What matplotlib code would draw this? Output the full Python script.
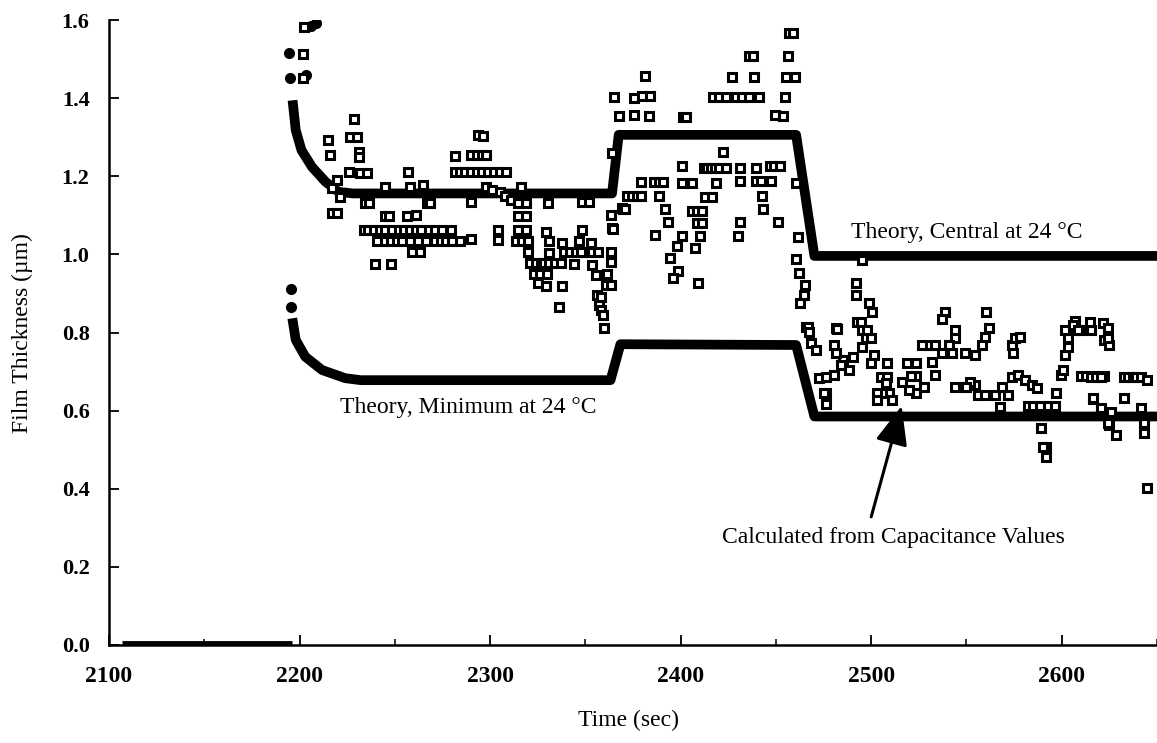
import matplotlib
matplotlib.use("Agg")
import matplotlib.pyplot as plt
import numpy as np

plt.rcParams['font.family'] = ['Liberation Serif', 'DejaVu Serif']

# theory, central film thickness (solid curve of dots)
central_t = [2196.6, 2198, 2201, 2206.5, 2213.6, 2220.5, 2228, 2364, 2367.5, 2460.6, 2470.2, 2650]
central_v = [1.382, 1.318, 1.267, 1.224, 1.186, 1.160, 1.156, 1.156, 1.306, 1.306, 0.996, 0.996]
# a few loose theory points before the curve settles
central_dot_t = [2194.5, 2195, 2203.5, 2206, 2208.5]
central_dot_v = [1.515, 1.451, 1.46, 1.585, 1.592]

# theory, minimum film thickness
minimum_t = [2196.6, 2198, 2203, 2211.8, 2224, 2232, 2363.2, 2368.4, 2460.6, 2470.2, 2650]
minimum_v = [0.824, 0.781, 0.738, 0.704, 0.683, 0.678, 0.678, 0.770, 0.768, 0.585, 0.585]
minimum_dot_t = [2195.3, 2195.3]
minimum_dot_v = [0.911, 0.866]

# zero readings before the run starts
zero_t = [2107, 2196]
zero_v = [0.004, 0.004]

# calculated from capacitance values (open squares)
meas = [
    (2202.3, 1.583), (2201.8, 1.513), (2201.8, 1.451), (2228.4, 1.347), (2215, 1.293),
    (2226.7, 1.300), (2230.1, 1.300), (2216.2, 1.254), (2231, 1.263), (2231, 1.250),
    (2225.8, 1.212), (2231.9, 1.209), (2235.3, 1.209), (2219.9, 1.190), (2217, 1.169),
    (2221.4, 1.148), (2217, 1.105), (2219.5, 1.105), (2234.5, 1.132), (2236.2, 1.132),
    (2245, 1.173), (2245, 1.097), (2246.7, 1.097), (2256.2, 1.097), (2260.9, 1.101),
    (2233.6, 1.062), (2236, 1.062), (2239, 1.062), (2242, 1.062), (2245, 1.062),
    (2248.4, 1.062), (2252, 1.062), (2255, 1.062), (2258, 1.062), (2261, 1.062),
    (2264, 1.062), (2268, 1.062), (2271, 1.062), (2274.5, 1.062), (2279.3, 1.062),
    (2240.5, 1.033), (2245, 1.033), (2248, 1.033), (2251, 1.033), (2254, 1.033),
    (2258, 1.033), (2262, 1.033), (2266.6, 1.033), (2271, 1.033), (2274, 1.033),
    (2277, 1.033), (2280, 1.033), (2284, 1.033), (2290, 1.039),
    (2258.8, 1.005), (2263.1, 1.005), (2239.7, 0.975), (2247.8, 0.975), (2257.1, 1.212),
    (2258, 1.173), (2265, 1.178), (2266.7, 1.131), (2268.4, 1.131), (2293.6, 1.306),
    (2296.2, 1.303), (2281.4, 1.252), (2290, 1.254), (2293, 1.254), (2296, 1.254),
    (2298, 1.254), (2281.4, 1.212), (2284, 1.212), (2287, 1.212), (2290, 1.212),
    (2293, 1.212), (2296, 1.212), (2299, 1.212), (2302, 1.212), (2305, 1.212),
    (2308.4, 1.212), (2290, 1.135), (2298, 1.173), (2301, 1.165), (2305, 1.16),
    (2308, 1.15), (2311, 1.14), (2304, 1.062), (2304, 1.036), (2316.2, 1.173),
    (2314.5, 1.131), (2318.7, 1.131), (2314.5, 1.097), (2318.7, 1.097), (2314.5, 1.062),
    (2318.7, 1.062), (2313.5, 1.033), (2316.5, 1.033), (2319.7, 1.033), (2319.7, 1.005),
    (2321, 0.977), (2324, 0.977), (2326.6, 0.977), (2328.4, 0.977), (2331, 0.977),
    (2334, 0.977), (2337, 0.977), (2323, 0.951), (2326, 0.951), (2330, 0.951),
    (2325, 0.926), (2329.3, 0.919), (2338, 0.919), (2336.2, 0.866), (2329.3, 1.058),
    (2331, 1.033), (2338, 1.030), (2331, 1.003), (2330.2, 1.131), (2339, 1.005),
    (2342, 1.005), (2345, 1.005), (2347.6, 1.005), (2344, 0.975), (2348.4, 1.062),
    (2346.7, 1.033), (2352.8, 1.030), (2353.6, 1.005), (2356.6, 1.005), (2353.6, 0.973),
    (2355.4, 0.947), (2361.5, 0.950), (2360.6, 0.922), (2363.2, 0.922), (2356.3, 0.896),
    (2358, 0.892), (2357, 0.870), (2358, 0.858), (2359, 0.845), (2359.7, 0.811),
    (2363.2, 1.007), (2363.2, 0.981), (2363.2, 1.101), (2364, 1.067), (2348.4, 1.135),
    (2352, 1.135), (2364, 1.260), (2365, 1.404), (2367.5, 1.354), (2369.3, 1.118),
    # second step
    (2457, 1.566), (2459, 1.566), (2436, 1.508), (2438, 1.508), (2456.3, 1.508),
    (2381.1, 1.457), (2426.7, 1.455), (2438.4, 1.455), (2455.4, 1.453), (2459.8, 1.453),
    (2375.4, 1.400), (2379.7, 1.405), (2383.7, 1.405), (2417, 1.404), (2420, 1.404),
    (2424, 1.404), (2429, 1.404), (2432, 1.404), (2436, 1.404), (2441, 1.404),
    (2454.6, 1.402), (2375.4, 1.357), (2383.2, 1.354), (2401, 1.352), (2403, 1.352),
    (2449.3, 1.357), (2453.7, 1.354), (2422, 1.263), (2400.6, 1.225),
    (2412, 1.220), (2414, 1.220), (2416, 1.220), (2418, 1.220), (2420, 1.220),
    (2424, 1.220), (2431, 1.220), (2439.4, 1.220), (2446.7, 1.225), (2449, 1.225),
    (2452, 1.225), (2379, 1.186), (2386, 1.186), (2388.5, 1.186), (2391, 1.186),
    (2400.6, 1.184), (2405.8, 1.184), (2418.5, 1.184), (2431.4, 1.188), (2439.8, 1.188),
    (2442, 1.188), (2447.6, 1.188), (2460.3, 1.184), (2372, 1.150), (2374.5, 1.150),
    (2377, 1.150), (2379, 1.150), (2388.4, 1.150), (2412.8, 1.148), (2416.3, 1.148),
    (2442.7, 1.150), (2369.5, 1.115), (2371, 1.115), (2391.9, 1.115), (2405.8, 1.112),
    (2408.5, 1.112), (2411, 1.112), (2443.2, 1.115), (2364.6, 1.064), (2393.6, 1.084),
    (2408.5, 1.080), (2411, 1.080), (2431.4, 1.084), (2451, 1.084), (2386.7, 1.050),
    (2400.6, 1.047), (2410.2, 1.047), (2430.2, 1.047), (2461.5, 1.045), (2398, 1.021),
    (2407.6, 1.016), (2394.2, 0.990), (2460.6, 0.987), (2398.8, 0.958), (2396.2, 0.939),
    (2409.3, 0.928), (2462, 0.953), (2465.5, 0.922), (2465, 0.896), (2462.7, 0.875),
    # third step
    (2492, 0.928), (2492, 0.896), (2498.6, 0.876), (2500.6, 0.853), (2492.8, 0.828),
    (2494.5, 0.828), (2539, 0.853), (2537, 0.834), (2560, 0.853), (2606.8, 0.830),
    (2621.6, 0.825), (2465.9, 0.815), (2481.5, 0.811), (2495, 0.985),
    (2561.6, 0.811), (2559.8, 0.789), (2558, 0.768), (2544.2, 0.806), (2544.2, 0.785),
    (2540.6, 0.768), (2542.4, 0.747), (2537.2, 0.747), (2530.2, 0.768), (2526.7, 0.768),
    (2533.5, 0.768), (2549.4, 0.747), (2554.6, 0.742), (2531.9, 0.725), (2523.3, 0.721),
    (2518.9, 0.721), (2533.7, 0.691), (2523.3, 0.689), (2520.7, 0.689), (2523.3, 0.644),
    (2519.8, 0.653), (2527.6, 0.660), (2516, 0.674), (2509.4, 0.644), (2505.9, 0.644),
    (2503.3, 0.644), (2503.3, 0.627), (2511.1, 0.627), (2505, 0.687), (2508.5, 0.687),
    (2507.6, 0.670), (2508.5, 0.721), (2501.5, 0.742), (2499.8, 0.721), (2495.4, 0.764),
    (2497.2, 0.785), (2499.8, 0.785), (2495.4, 0.806), (2498, 0.806), (2490.2, 0.738),
    (2485, 0.730), (2488.5, 0.704), (2484.1, 0.717), (2481.5, 0.747), (2480.7, 0.768),
    (2481.9, 0.808), (2466.7, 0.815), (2467.6, 0.802), (2468.5, 0.772), (2471, 0.755),
    (2472.8, 0.683), (2476.3, 0.687), (2480.7, 0.691), (2476.3, 0.644), (2476.5, 0.617),
    (2554.6, 0.666), (2552, 0.674), (2547.6, 0.661), (2544, 0.661), (2550, 0.661),
    (2556.3, 0.640), (2559.8, 0.640), (2565, 0.640), (2567.6, 0.610), (2568.5, 0.661),
    (2573.8, 0.687), (2577.2, 0.691), (2580.7, 0.679), (2584.2, 0.666), (2586.8, 0.657),
    (2572, 0.640), (2573.8, 0.768), (2574.6, 0.747), (2575.5, 0.785), (2578.1, 0.789),
    (2582.4, 0.612), (2585, 0.612), (2588.5, 0.612), (2592.8, 0.612), (2596.3, 0.612),
    (2597.2, 0.644), (2599.8, 0.691), (2600.6, 0.704), (2601.6, 0.742), (2603.3, 0.764),
    (2603.3, 0.785), (2601.6, 0.806), (2606.8, 0.806), (2610.3, 0.806), (2615.5, 0.806),
    (2606, 0.819), (2622.4, 0.781), (2625, 0.768), (2610.3, 0.689), (2613, 0.689),
    (2616, 0.689), (2619, 0.689), (2622.4, 0.689), (2616.3, 0.629), (2620.7, 0.602),
    (2625, 0.585), (2625, 0.563), (2589.3, 0.555), (2592, 0.508), (2592, 0.482),
    (2590.2, 0.508), (2475.4, 0.644),
    (2614.6, 0.828), (2624.2, 0.811), (2608.6, 0.806), (2624.2, 0.785), (2615.5, 0.687),
    (2618, 0.687), (2620.7, 0.687), (2632.9, 0.687), (2635, 0.687), (2637.2, 0.687),
    (2639, 0.687), (2641.6, 0.687), (2645, 0.678), (2616.3, 0.632), (2632.9, 0.632),
    (2620.7, 0.606), (2626, 0.597), (2641.6, 0.606), (2624.2, 0.568), (2628.5, 0.538),
    (2643.3, 0.568), (2643.3, 0.542), (2645, 0.401),
]
meas_t = [p[0] for p in meas]
meas_v = [p[1] for p in meas]

W, H = 1157, 743
fig = plt.figure(figsize=(W / 100, H / 100), dpi=100)
ax = fig.add_axes([109 / W, 1 - 645 / H, 1048 / W, 625 / H])

ax.plot(zero_t, zero_v, color='black', lw=3.5, solid_capstyle='butt', zorder=3)
ax.plot(central_t, central_v, color='black', lw=7, solid_joinstyle='round', zorder=2)
ax.plot(minimum_t, minimum_v, color='black', lw=7, solid_joinstyle='round', zorder=2)
ax.plot(central_dot_t, central_dot_v, 'o', color='black', ms=7, zorder=2)
ax.plot(minimum_dot_t, minimum_dot_v, 'o', color='black', ms=7, zorder=2)
ax.plot(meas_t, meas_v, 's', mfc='white', mec='black', ms=5.2, mew=2.2, ls='none', zorder=4)

ax.set_xlim(2100, 2647)
ax.set_ylim(0, 1.6)
ax.set_xticks(np.arange(2100, 2601, 100))
ax.set_xticks(np.arange(2150, 2651, 100), minor=True)
ax.set_xticklabels([str(v) for v in range(2100, 2601, 100)], fontweight='bold')
ax.set_yticks(np.arange(0, 1.61, 0.2))
ax.set_yticklabels([f"{v:.1f}" for v in np.arange(0, 1.61, 0.2)], fontweight='bold')

for s in ['top', 'right']:
    ax.spines[s].set_visible(False)
for s in ['left', 'bottom']:
    ax.spines[s].set_linewidth(1.8)

ax.tick_params(axis='x', which='major', direction='in', length=7, width=1.3,
               labelsize=17, pad=15)
ax.tick_params(axis='x', which='minor', direction='in', length=4, width=1.1)
ax.tick_params(axis='y', which='major', direction='in', length=7, width=1.3,
               labelsize=16, pad=14)

fig.text(628 / W, 1 - 720 / H, 'Time (sec)', ha='center', va='center', fontsize=17)
fig.text(22 / W, 1 - 333 / H, 'Film Thickness (\u00b5m)', ha='center', va='center',
         rotation=90, fontsize=17)

ax.text(2549.9, 1.055, 'Theory, Central at 24 \u00b0C', ha='center', va='center', fontsize=17)
ax.text(2288.4, 0.609, 'Theory, Minimum at 24 \u00b0C', ha='center', va='center', fontsize=17)
ax.text(2511.5, 0.274, 'Calculated from Capacitance Values', ha='center', va='center', fontsize=17)
ax.annotate('', xy=(2516, 0.612), xytext=(2500, 0.328),
            arrowprops=dict(arrowstyle='-|>,head_length=1.2,head_width=0.5',
                            lw=2.2, color='black', mutation_scale=20, shrinkA=0, shrinkB=0))

fig.savefig('out.png', dpi=100)
